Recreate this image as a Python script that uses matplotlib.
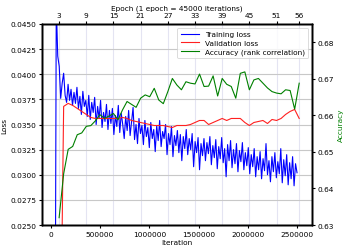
import numpy as np
import matplotlib
matplotlib.use("Agg")
import matplotlib.pyplot as plt
from matplotlib.ticker import FormatStrFormatter

# ---- data ----
train_start = 40000
train_step = 15000
train_loss = [
    0.0000, 0.0470, 0.0418, 0.0408, 0.0376, 0.0391, 0.0401, 0.0379, 0.0372, 0.0390,
    0.0374, 0.0385, 0.0369, 0.0382, 0.0371, 0.0387, 0.0366, 0.0378, 0.0360, 0.0383,
    0.0368, 0.0374, 0.0358, 0.0379, 0.0355, 0.0372, 0.0362, 0.0377, 0.0350, 0.0368,
    0.0356, 0.0374, 0.0347, 0.0362, 0.0353, 0.0370, 0.0345, 0.0364, 0.0351, 0.0366,
    0.0340, 0.0359, 0.0348, 0.0369, 0.0342, 0.0361, 0.0350, 0.0336, 0.0358, 0.0344,
    0.0364, 0.0339, 0.0353, 0.0367, 0.0335, 0.0350, 0.0331, 0.0356, 0.0341, 0.0349,
    0.0330, 0.0354, 0.0338, 0.0347, 0.0327, 0.0352, 0.0336, 0.0345, 0.0323, 0.0349,
    0.0334, 0.0354, 0.0328, 0.0343, 0.0336, 0.0350, 0.0320, 0.0341, 0.0330, 0.0348,
    0.0318, 0.0339, 0.0329, 0.0344, 0.0322, 0.0340, 0.0314, 0.0338, 0.0326, 0.0345,
    0.0320, 0.0336, 0.0325, 0.0341, 0.0308, 0.0333, 0.0322, 0.0337, 0.0305, 0.0331,
    0.0319, 0.0336, 0.0314, 0.0332, 0.0321, 0.0338, 0.0310, 0.0329, 0.0317, 0.0335,
    0.0306, 0.0328, 0.0316, 0.0337, 0.0312, 0.0326, 0.0298, 0.0330, 0.0314, 0.0334,
    0.0307, 0.0325, 0.0311, 0.0331, 0.0303, 0.0324, 0.0313, 0.0332, 0.0305, 0.0322,
    0.0309, 0.0327, 0.0301, 0.0320, 0.0308, 0.0326, 0.0298, 0.0318, 0.0305, 0.0323,
    0.0296, 0.0316, 0.0304, 0.0331, 0.0300, 0.0314, 0.0293, 0.0318, 0.0303, 0.0322,
    0.0297, 0.0313, 0.0301, 0.0326, 0.0292, 0.0315, 0.0299, 0.0320, 0.0290, 0.0312,
    0.0296, 0.0318, 0.0289, 0.0311, 0.0302,
]

val_epochs = list(range(3, 57))
iters_per_val = 46000
val_first_iter = 84000
val_loss = [
    0.0000, 0.0368, 0.0371, 0.0369, 0.0366, 0.0363, 0.0360, 0.0357, 0.0356, 0.0356,
    0.0356, 0.0356, 0.0356, 0.0356, 0.0357, 0.0356, 0.0354, 0.0353, 0.0352, 0.0351,
    0.0350, 0.0349, 0.0349, 0.0349, 0.0348, 0.0347, 0.0349, 0.0349, 0.0349, 0.0350,
    0.0352, 0.0354, 0.0354, 0.0350, 0.0352, 0.0354, 0.0356, 0.0354, 0.0356, 0.0356,
    0.0356, 0.0352, 0.0349, 0.0352, 0.0353, 0.0354, 0.0351, 0.0355, 0.0354, 0.0356,
    0.0360, 0.0363, 0.0365, 0.0356,
]
accuracy = [
    0.6320, 0.6440, 0.6507, 0.6515, 0.6547, 0.6552, 0.6570, 0.6572, 0.6585, 0.6602,
    0.6592, 0.6598, 0.6605, 0.6588, 0.6615, 0.6638, 0.6630, 0.6622, 0.6647, 0.6656,
    0.6651, 0.6674, 0.6642, 0.6632, 0.6665, 0.6701, 0.6683, 0.6670, 0.6692, 0.6688,
    0.6686, 0.6713, 0.6679, 0.6680, 0.6708, 0.6653, 0.6701, 0.6685, 0.6679, 0.6647,
    0.6715, 0.6719, 0.6670, 0.6697, 0.6701, 0.6688, 0.6675, 0.6665, 0.6661, 0.6659,
    0.6670, 0.6668, 0.6617, 0.6688,
]

loss_ticks = [0.0250, 0.0275, 0.0300, 0.0325, 0.0350, 0.0375, 0.0400, 0.0425, 0.0450]
acc_ticks = [0.63, 0.64, 0.65, 0.66, 0.67, 0.68]
iter_ticks = [0, 500000, 1000000, 1500000, 2000000, 2500000]
epoch_tick_labels = [3, 9, 15, 21, 27, 33, 39, 45, 51, 56]

train_iter = train_start + train_step * np.arange(len(train_loss))
val_iter = val_first_iter + iters_per_val * np.arange(len(val_epochs))
epoch_tick_pos = [val_iter[val_epochs.index(e)] for e in epoch_tick_labels]

# ---- figure ----
plt.rcParams['font.family'] = ['DejaVu Sans']
FS = 5.3
fig = plt.figure(figsize=(3.43, 2.51), dpi=100)
ax = fig.add_axes([0.1224, 0.0996, 0.7872, 0.8008])

ax.set_xlim(-90000, 2652000)
ax.set_ylim(0.025, 0.045)

# grids
ax.set_yticks(loss_ticks)
ax.yaxis.set_major_formatter(FormatStrFormatter('%.4f'))
ax.grid(axis='y', which='major', color='#c8c8c8', linewidth=0.8)
ax.set_xticks(epoch_tick_pos, minor=True)
ax.grid(axis='x', which='minor', color='#e4e4f2', linewidth=0.8)
ax.tick_params(axis='x', which='minor', length=0)
ax.set_axisbelow(True)

l1, = ax.plot(train_iter, train_loss, color='#0000ff', linewidth=0.8, label='Training loss')
l2, = ax.plot(val_iter, val_loss, color='#ff2020', linewidth=0.8, label='Validation loss')

ax.set_xticks(iter_ticks)
ax.set_xticklabels([str(t) for t in iter_ticks])
ax.set_xlabel('Iteration', fontsize=FS, labelpad=1.5)
ax.set_ylabel('Loss', fontsize=FS, labelpad=2)
ax.tick_params(axis='both', which='major', labelsize=FS, length=2.5, width=0.8, pad=1.5)

ax2 = ax.twinx()
l3, = ax2.plot(val_iter, accuracy, color='#008000', linewidth=0.8,
               label='Accuracy (rank correlation)')
ax2.set_ylim(0.63, 0.685)
ax2.set_yticks(acc_ticks)
ax2.yaxis.set_major_formatter(FormatStrFormatter('%.2f'))
ax2.set_ylabel('Accuracy', fontsize=FS, color='#008000', labelpad=3)
ax2.tick_params(axis='y', labelsize=FS, length=2.5, width=0.8, pad=1.5)

ax3 = ax.twiny()
ax3.set_xlim(ax.get_xlim())
ax3.set_xticks(epoch_tick_pos)
ax3.set_xticklabels([str(e) for e in epoch_tick_labels])
ax3.tick_params(axis='x', labelsize=FS, length=2.5, width=0.8, pad=1.5)
ax3.set_xlabel('Epoch (1 epoch = 45000 iterations)', fontsize=FS, labelpad=2)

for a in (ax, ax2, ax3):
    for s in a.spines.values():
        s.set_linewidth(1.0)
        s.set_color('black')

leg = ax3.legend([l1, l2, l3], [l1.get_label(), l2.get_label(), l3.get_label()],
                 loc='upper right', fontsize=FS, frameon=True, borderaxespad=0.5,
                 handlelength=2.5, labelspacing=0.35, borderpad=0.45)
leg.get_frame().set_linewidth(0.6)

fig.savefig('out.png', dpi=100)
